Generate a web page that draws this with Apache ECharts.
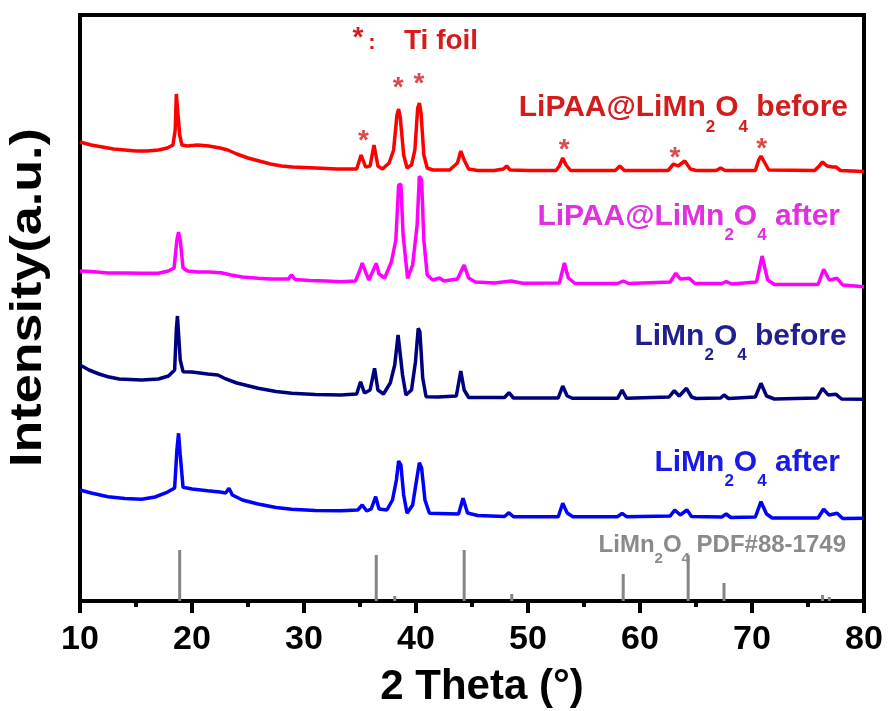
<!DOCTYPE html>
<html><head><meta charset="utf-8">
<script src="https://cdn.jsdelivr.net/npm/echarts@6/dist/echarts.min.js"></script>
<style>html,body{margin:0;padding:0;background:#fff}#c{width:888px;height:711px}</style>
</head><body><div id="c"></div>
<script>
const FONT = "'Liberation Sans', Arial, Helvetica, sans-serif";

// x axis
const xMin = 10, xMax = 80, xStep = 10;

// LiPAA@LiMn2O4 before  [2theta, intensity]
const lipaaBefore = [[10.0,459],[11.0,456],[12.0,454],[13.0,452],[14.0,451],[15.0,450],[16.0,450],[17.0,451],[17.8,453],[18.3,456],[18.5,471],[18.6,507],[18.75,507],[18.9,466],[19.1,456],[19.6,455],[20.5,456],[21.5,455],[22.5,453],[23.2,451],[24.0,447],[25.0,443],[26.0,440],[27.0,437],[28.0,435],[29.0,434],[30.0,433.5],[31.0,433],[32.0,432.5],[33.0,432],[34.7,432],[35.1,446],[35.5,434],[35.9,435],[36.25,456],[36.6,435],[37.0,432],[37.6,438],[38.0,451],[38.3,486],[38.45,492],[38.6,483],[38.9,446],[39.2,433],[39.6,436],[39.9,451],[40.15,493],[40.3,498],[40.45,488],[40.7,446],[41.0,433],[41.5,431],[43.0,431],[43.7,438],[44.0,450],[44.3,441],[44.7,432],[45.5,430.5],[47.0,430.5],[47.8,432],[48.1,435],[48.4,431],[50.0,430.5],[52.5,430.5],[52.8,435],[53.1,443],[53.4,436],[53.8,430.5],[57.8,430.5],[58.2,435],[58.6,430.5],[62.5,430.5],[63.0,437],[63.4,435],[64.0,440],[64.5,432],[65.0,430.5],[66.8,430.5],[67.2,433],[67.6,430.5],[70.3,430.5],[70.6,441],[70.8,445],[71.1,439],[71.5,431],[75.6,430.5],[76.0,435],[76.3,439],[76.7,435],[77.2,434],[77.5,434],[77.9,430.5],[80.0,429.5]];

// LiPAA@LiMn2O4 after
const lipaaAfter = [[10.0,330],[11.0,329.5],[12.5,328],[14.0,328],[15.5,327.7],[17.0,327.7],[17.9,330],[18.4,333],[18.65,361],[18.8,369],[18.95,361],[19.2,333],[19.6,330],[20.5,329],[21.5,329],[22.6,328.3],[23.5,326],[24.5,324],[25.9,322.7],[27.0,322],[28.6,322],[28.9,326],[29.2,321.5],[30.5,320.5],[32.0,320],[33.3,319.3],[34.6,320],[35.0,331],[35.2,338],[35.5,329],[35.8,321],[36.2,331],[36.45,337.7],[36.7,327],[37.2,323],[37.8,339],[38.2,361],[38.45,416],[38.65,417],[38.85,366],[39.25,322.7],[39.7,336],[40.1,376],[40.3,425],[40.5,421],[40.7,361],[41.0,326],[41.5,321],[42.1,323],[42.5,320],[43.7,322],[44.3,336],[44.7,323],[45.3,319],[47.0,318],[48.5,320],[49.5,317.7],[52.8,318],[53.25,338],[53.6,323],[54.2,317.5],[58.0,317.5],[58.5,320],[59.0,317.5],[62.7,319],[63.2,327.7],[63.6,322],[64.4,322.7],[64.9,317.5],[67.3,317.5],[67.7,319.3],[68.2,317],[70.4,319],[70.9,345],[71.4,321],[72.0,316.5],[75.9,316.5],[76.4,331.7],[76.9,321],[77.6,322.7],[78.1,316],[80.0,314.3]];

// LiMn2O4 before
const lmoBefore = [[10.0,236],[10.8,231],[11.7,227],[12.5,224.3],[13.5,222],[15.5,221],[17.0,222],[17.9,225],[18.45,231],[18.6,271],[18.7,285],[18.8,283],[18.95,241],[19.2,229.3],[20.0,229],[21.4,227],[22.3,226],[22.9,222.7],[24.0,218],[25.9,212.7],[27.5,209.5],[28.9,207.7],[31.0,206.5],[33.3,206],[34.7,207],[35.05,219.3],[35.4,208],[35.9,211],[36.3,232.7],[36.6,211],[37.1,207],[37.7,218],[38.1,236],[38.4,266],[38.55,264],[38.8,226],[39.1,206],[39.6,211],[39.95,239],[40.2,272.7],[40.35,269],[40.6,223],[40.9,204.3],[42.0,204],[43.6,205],[44.0,230],[44.3,211],[44.7,203.5],[47.9,203.5],[48.3,208.3],[48.7,203],[52.7,203],[53.1,215],[53.5,205],[54.0,202.7],[58.0,202.7],[58.4,211],[58.8,202.7],[62.6,204],[63.06,210.3],[63.5,205],[64.15,212.7],[64.6,204],[65.0,202.5],[67.2,203],[67.5,206],[67.9,202.5],[70.3,204],[70.8,217.7],[71.3,205],[72.0,202],[75.8,203],[76.3,212.7],[76.8,206],[77.5,206.7],[78.0,202],[80.0,201.7]];

// LiMn2O4 after
const lmoAfter = [[10.0,111],[11.0,108],[12.5,104.3],[14.0,102.5],[15.5,101.7],[16.7,104],[17.7,108.3],[18.45,113],[18.65,151],[18.8,167.7],[18.95,146],[19.2,113.7],[20.0,112],[21.4,110.3],[22.5,109],[23.0,108],[23.3,112.7],[23.6,106],[24.5,101],[25.9,97],[27.5,93.5],[28.9,91.7],[31.0,90.5],[33.3,90.3],[34.8,91],[35.2,96],[35.6,90],[36.0,92],[36.4,104.3],[36.7,92],[37.4,91],[37.9,101],[38.25,121],[38.45,140],[38.65,136],[38.9,106],[39.2,87.7],[39.7,96],[40.05,121],[40.3,138.3],[40.5,133],[40.8,101],[41.2,87.7],[43.8,87],[44.2,102.7],[44.6,88],[45.5,85.5],[47.9,84.5],[48.3,88.3],[48.7,84.3],[52.7,84.3],[53.1,97.7],[53.5,88],[54.0,84.3],[58.0,84.3],[58.4,87.7],[58.8,84.3],[62.7,85],[63.1,91],[63.6,86],[64.2,91],[64.6,84.5],[67.3,84],[67.7,87],[68.1,83.5],[70.3,84],[70.8,99.3],[71.3,87],[71.8,83],[75.9,83],[76.4,91.7],[76.9,86],[77.6,87.7],[78.1,82.5],[80.0,82.7]];

// Reference pattern LiMn2O4 PDF#88-1749
const pdfTheta = [18.9, 36.45, 38.1, 44.3, 48.55, 58.5, 64.3, 67.5, 76.3, 76.9];
const pdfIntensity = [51, 46, 5, 51, 7, 27, 46, 18, 6, 4];

// Ti foil reflections marked with *
const tiStarTheta = [35.3, 38.42, 40.27, 53.24, 63.13, 70.87];
const tiStarLevel = [459.6, 512.9, 516.3, 450.6, 442.9, 451.3];

const chart = echarts.init(document.getElementById('c'), null, {renderer: 'canvas'});

function subRich(color, big, small, pad) {
  return {
    a: {fill: color, fontSize: big, fontWeight: 'bold', fontFamily: FONT},
    s: {fill: color, fontSize: small, fontWeight: 'bold', fontFamily: FONT, padding: [pad, 0, 0, 0]}
  };
}
function lbl(x, y, text, color, big, small, pad) {
  return {type: 'text', x: x, y: y, z: 100,
    style: {text: text, rich: subRich(color, big, small, pad), align: 'right', verticalAlign: 'middle'}};
}

const lineSeries = (name, data, color) => ({
  name, type: 'line', data, showSymbol: false, symbol: 'none', smooth: false,
  lineStyle: {color, width: 3.5}, itemStyle: {color}, z: 3, silent: true
});

chart.setOption({
  animation: false,
  backgroundColor: '#fff',
  grid: {left: 80, right: 24, top: 15, bottom: 110, show: true, borderColor: '#000', borderWidth: 4,
         containLabel: false, outerBoundsMode: 'none'},
  xAxis: {
    type: 'value', min: xMin, max: xMax, interval: xStep,
    axisLine: {show: true, lineStyle: {color: '#000', width: 4}},
    axisTick: {show: true, length: 12, lineStyle: {color: '#000', width: 4}},
    minorTick: {show: true, splitNumber: 2, length: 6, lineStyle: {color: '#000', width: 4}},
    axisLabel: {fontSize: 34, fontWeight: 'bold', color: '#000', fontFamily: FONT, margin: 22},
    splitLine: {show: false}, minorSplitLine: {show: false}
  },
  yAxis: {
    type: 'value', min: 0, max: 586,
    axisLine: {show: false}, axisTick: {show: false}, axisLabel: {show: false},
    splitLine: {show: false}
  },
  series: [
    {
      name: 'PDF#88-1749', type: 'custom', z: 2, silent: true,
      data: pdfTheta.map((t, i) => [t, pdfIntensity[i]]),
      renderItem: function (params, api) {
        const p0 = api.coord([api.value(0), 0]);
        const p1 = api.coord([api.value(0), api.value(1)]);
        return {type: 'line', shape: {x1: p0[0], y1: p0[1], x2: p1[0], y2: p1[1]},
                style: {stroke: '#858585', lineWidth: 3}};
      }
    },
    lineSeries('LiMn2O4 after', lmoAfter, '#0000ff'),
    lineSeries('LiMn2O4 before', lmoBefore, '#00007f'),
    lineSeries('LiPAA@LiMn2O4 after', lipaaAfter, '#ff00ff'),
    lineSeries('LiPAA@LiMn2O4 before', lipaaBefore, '#ff0000'),
    {
      name: 'Ti foil', type: 'scatter', symbol: 'circle', symbolSize: 1, z: 5, silent: true,
      itemStyle: {color: 'rgba(0,0,0,0)'},
      data: tiStarTheta.map((t, i) => [t, tiStarLevel[i]]),
      label: {show: true, position: 'inside', formatter: '*', color: '#d41c1c',
              fontSize: 28, fontWeight: 'bold', fontFamily: FONT}
    }
  ],
  graphic: [
    {type: 'text', x: 29, y: 297.5, rotation: Math.PI / 2, scaleX: 1.185, z: 100,
     style: {text: 'Intensity(a.u.)', fill: '#000', font: 'bold 44px ' + FONT, align: 'center', verticalAlign: 'middle'}},
    {type: 'text', x: 482, y: 687, z: 100,
     style: {text: '2 Theta (°)', fill: '#000', font: 'bold 42px ' + FONT, align: 'center', verticalAlign: 'middle'}},
    {type: 'text', x: 358, y: 38.4, z: 100,
     style: {text: '*', fill: '#d41c1c', font: 'bold 28px ' + FONT, align: 'center', verticalAlign: 'middle'}},
    {type: 'text', x: 372, y: 43, z: 100,
     style: {text: ':', fill: '#d41c1c', font: 'bold 22px ' + FONT, align: 'center', verticalAlign: 'middle'}},
    {type: 'text', x: 404, y: 41.3, z: 100,
     style: {text: 'Ti foil', fill: '#d41c1c', font: 'bold 28px ' + FONT, align: 'left', verticalAlign: 'middle'}},
    lbl(848, 108, '{a|LiPAA@LiMn}{s|2}{a|O}{s|4}{a| before}', '#d41c1c', 30, 17, 38),
    lbl(840, 216.3, '{a|LiPAA@LiMn}{s|2}{a|O}{s|4}{a| after}', '#e030e0', 30, 17, 38),
    lbl(846.7, 336.3, '{a|LiMn}{s|2}{a|O}{s|4}{a| before}', '#1f1f8f', 30, 17, 38),
    lbl(840, 462.3, '{a|LiMn}{s|2}{a|O}{s|4}{a| after}', '#1a1ae6', 30, 17, 38),
    lbl(846, 545, '{a|LiMn}{s|2}{a|O}{s|4}{a| PDF#88-1749}', '#8a8a8a', 24, 15, 28)
  ]
});
</script></body></html>
